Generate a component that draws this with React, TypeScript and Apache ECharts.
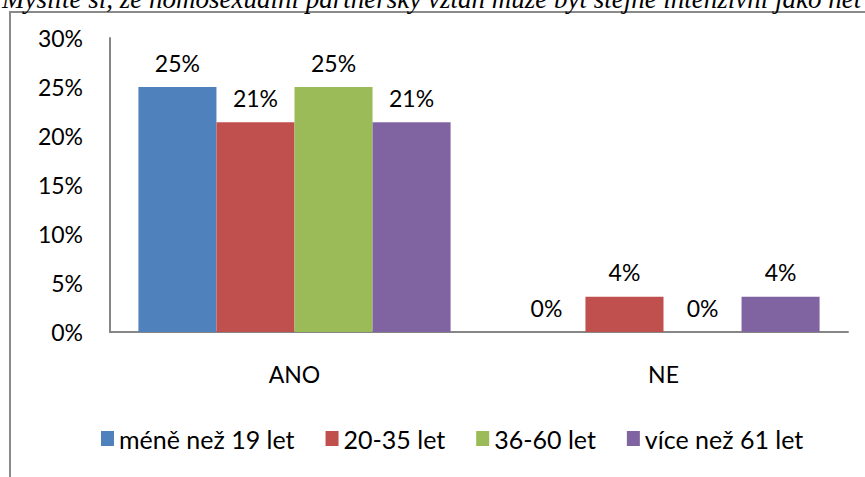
import React, { useEffect, useRef } from "react";
import * as echarts from "echarts";

const categories = ["ANO", "NE"];
const seriesNames = ["méně než 19 let", "20-35 let", "36-60 let", "více než 61 let"];
const under19 = [25, 0];
const age20to35 = [21.4, 3.6];
const age36to60 = [25, 0];
const over61 = [21.4, 3.6];
const colors = ["#4F81BD", "#C0504D", "#9BBB59", "#8064A2"];
const titleText = "Myslíte si, že homosexuální partnerský vztah může být stejně intenzivní jako het";

const FONT = "Lato";

export default function App() {
  const ref = useRef<HTMLDivElement>(null);
  useEffect(() => {
    if (!ref.current) return;
    const chart = echarts.init(ref.current, undefined, { renderer: "svg" });
    const values = [under19, age20to35, age36to60, over61];
    chart.setOption({
      animation: false,
      backgroundColor: "#ffffff",
      textStyle: { fontFamily: FONT },
      graphic: [
        {
          type: "rect",
          shape: { x: 10, y: 12, width: 900, height: 500 },
          style: { fill: "none", stroke: "#8a8a8a", lineWidth: 2 },
          silent: true,
        },
        {
          type: "text",
          x: 2,
          y: 12,
          style: {
            text: titleText,
            font: "italic 27px 'Liberation Serif'",
            fill: "#000",
            verticalAlign: "bottom",
          },
          silent: true,
        },
      ],
      legend: {
        bottom: 21,
        left: 96,
        itemWidth: 13,
        itemHeight: 15,
        itemGap: 31,
        icon: "rect",
        data: seriesNames,
        textStyle: { fontFamily: FONT, fontSize: 25, color: "#000" },
      },
      grid: { left: 110, right: 17, top: 38, bottom: 145 },
      xAxis: {
        type: "category",
        data: categories,
        axisLine: { lineStyle: { color: "#868686", width: 2 } },
        axisTick: { show: false },
        axisLabel: { fontFamily: FONT, fontSize: 23, color: "#000", margin: 30 },
      },
      yAxis: {
        type: "value",
        min: 0,
        max: 30,
        interval: 5,
        axisLine: { show: true, lineStyle: { color: "#868686", width: 2 } },
        axisTick: { show: false },
        splitLine: { show: false },
        axisLabel: {
          fontFamily: FONT,
          fontSize: 23,
          color: "#000",
          margin: 27,
          formatter: "{value}%",
        },
      },
      series: seriesNames.map((name, i) => ({
        name,
        type: "bar",
        data: values[i],
        barGap: "0%",
        barCategoryGap: "15.4%",
        itemStyle: { color: colors[i] },
        label: {
          show: true,
          position: "top",
          distance: 13,
          fontFamily: FONT,
          fontSize: 23,
          color: "#000",
          formatter: (p: any) => Math.round(p.value) + "%",
        },
      })),
    });
    return () => chart.dispose();
  }, []);
  return (
    <div
      ref={ref}
      style={{ position: "fixed", left: 0, top: 0, width: 865, height: 477 }}
    />
  );
}
